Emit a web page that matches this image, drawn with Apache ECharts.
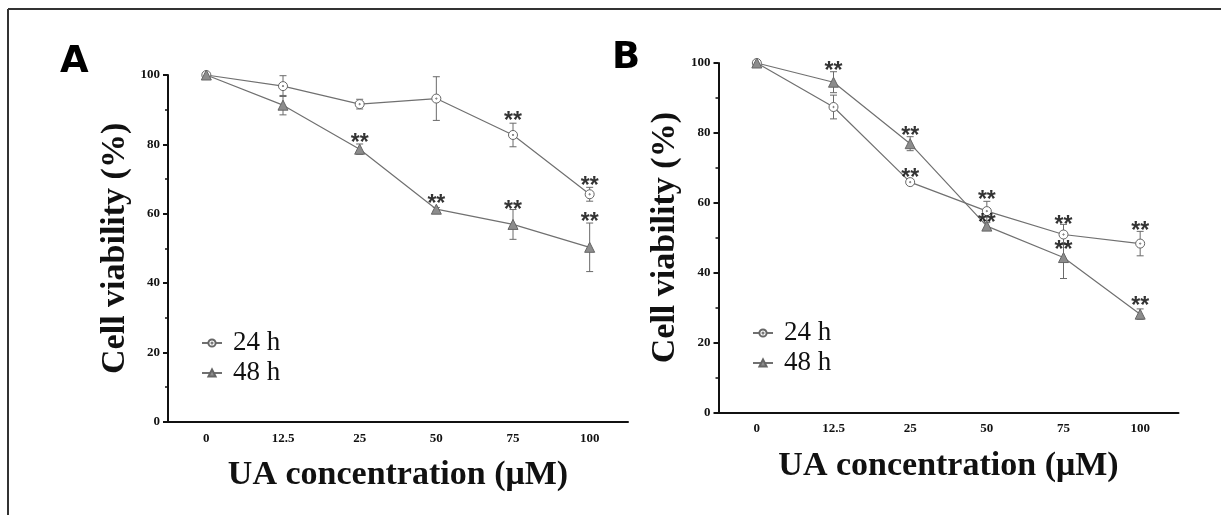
<!DOCTYPE html>
<html>
<head>
<meta charset="utf-8">
<script src="https://cdn.jsdelivr.net/npm/echarts@6/dist/echarts.min.js"></script>
<style>
    html, body { margin: 0; padding: 0; background: #fff; }
    #chart { width: 1221px; height: 515px; }
</style>
</head>
<body>
<div id="chart"></div>
<script>
(function () {
    'use strict';

    // UA dose (µM) categories
    var doses = ['0', '12.5', '25', '50', '75', '100'];

    // panel A: means and SD
    var a24 = [100, 96.8, 91.6, 93.2, 82.7, 65.6];
    var a24Err = [0.5, 3.0, 1.4, 6.3, 3.4, 2.0];
    var a48 = [100, 91.3, 78.6, 61.3, 56.9, 50.3];
    var a48Err = [0.5, 2.8, 1.5, 0.5, 4.3, 7.0];

    // panel B: means and SD
    var b24 = [100, 87.4, 65.9, 57.6, 50.9, 48.3];
    var b24Err = [0.5, 3.4, 0.5, 2.8, 2.9, 3.5];
    var b48 = [100, 94.5, 76.9, 53.3, 44.3, 28.1];
    var b48Err = [0.5, 3.0, 2.0, 1.0, 6.0, 1.5];

    // where the ** marks sit (value units), null = not significant
    var a24Star = [null, null, null, null, 88.2, 69.4];
    var a48Star = [null, null, 82.0, 64.4, 62.7, 59.0];
    var b24Star = [null, null, 68.5, 62.3, 55.2, 53.3];
    var b48Star = [null, 99.3, 80.5, 55.8, 48.0, 32.1];

    var lineColor = '#707070';
    var serif = '"Liberation Serif", "Times New Roman", serif';
    // open circle with a dot in the middle
    var dotCircle = 'path://M10,0A10,10 0 1,1 10,20A10,10 0 1,1 10,0ZM10,8.6A1.4,1.4 0 1,1 10,11.4A1.4,1.4 0 1,1 10,8.6Z';

    function errData(vals, errs) {
        var out = [];
        for (var i = 0; i < vals.length; i++) {
            out.push([i, vals[i], errs[i]]);
        }
        return out;
    }

    function starData(stars) {
        var out = [];
        for (var i = 0; i < stars.length; i++) {
            if (stars[i] !== null) {
                out.push([i, stars[i]]);
            }
        }
        return out;
    }

    function renderErr(params, api) {
        var hi = api.coord([api.value(0), api.value(1) + api.value(2)]);
        var lo = api.coord([api.value(0), api.value(1) - api.value(2)]);
        var w = 3.5;
        var st = { stroke: '#6a6a6a', lineWidth: 1 };
        return {
            type: 'group',
            children: [
                { type: 'line', shape: { x1: hi[0], y1: hi[1], x2: lo[0], y2: lo[1] }, style: st },
                { type: 'line', shape: { x1: hi[0] - w, y1: hi[1], x2: hi[0] + w, y2: hi[1] }, style: st },
                { type: 'line', shape: { x1: lo[0] - w, y1: lo[1], x2: lo[0] + w, y2: lo[1] }, style: st }
            ]
        };
    }

    function xAxisFor(idx) {
        return {
            type: 'category',
            gridIndex: idx,
            data: doses,
            boundaryGap: true,
            name: 'UA concentration (\u03bcM)',
            nameLocation: 'middle',
            nameGap: 37,
            nameTextStyle: { fontFamily: serif, fontWeight: 'bold', fontSize: 34, color: '#111' },
            axisLine: { lineStyle: { color: '#111', width: 2 } },
            axisTick: { alignWithLabel: true, length: 5, lineStyle: { color: '#111', width: 2 } },
            axisLabel: { fontFamily: serif, fontWeight: 'bold', fontSize: 13, color: '#111', margin: 10 },
            splitLine: { show: false }
        };
    }

    function yAxisFor(idx) {
        return {
            type: 'value',
            gridIndex: idx,
            min: 0,
            max: 100,
            interval: 20,
            name: 'Cell viability (%)',
            nameLocation: 'middle',
            nameGap: 36,
            nameTextStyle: { fontFamily: serif, fontWeight: 'bold', fontSize: 34, color: '#111' },
            axisLine: { show: true, lineStyle: { color: '#111', width: 2 } },
            axisTick: { show: true, length: 5, lineStyle: { color: '#111', width: 2 } },
            minorTick: { show: true, splitNumber: 2, length: 3, lineStyle: { color: '#111', width: 1.5 } },
            axisLabel: { fontFamily: serif, fontWeight: 'bold', fontSize: 13, color: '#111', margin: 8 },
            splitLine: { show: false }
        };
    }

    function lineSeries(name, idx, vals, symbol) {
        var tri = symbol === 'triangle';
        return {
            name: name,
            type: 'line',
            xAxisIndex: idx,
            yAxisIndex: idx,
            data: vals,
            symbol: symbol,
            symbolSize: tri ? 10 : 9,
            z: 3,
            lineStyle: { color: lineColor, width: 1.2 },
            itemStyle: tri ?
                { color: '#8c8c8c', borderColor: '#666', borderWidth: 1 } :
                { color: '#fff', borderColor: '#666', borderWidth: 1 }
        };
    }

    function errSeries(idx, vals, errs) {
        return {
            type: 'custom',
            xAxisIndex: idx,
            yAxisIndex: idx,
            data: errData(vals, errs),
            renderItem: renderErr,
            z: 2,
            silent: true
        };
    }

    function starSeries(idx, stars) {
        return {
            type: 'scatter',
            xAxisIndex: idx,
            yAxisIndex: idx,
            data: starData(stars),
            symbolSize: 1,
            itemStyle: { color: 'transparent' },
            z: 4,
            silent: true,
            label: {
                show: true,
                position: 'inside',
                formatter: '**',
                offset: [0, 6],
                fontFamily: '"Liberation Sans", Arial, sans-serif',
                fontWeight: 'bold',
                fontSize: 23,
                color: '#000'
            }
        };
    }

    function legendFor(left, top) {
        return {
            orient: 'vertical',
            left: left,
            top: top,
            padding: 0,
            itemWidth: 20,
            itemHeight: 9,
            itemGap: 0,
            data: ['24 h', '48 h'],
            textStyle: { fontFamily: serif, fontSize: 27, color: '#111', lineHeight: 30, padding: [0, 0, 0, 6] }
        };
    }

    var chart = echarts.init(document.getElementById('chart'), null, { renderer: 'canvas' });

    chart.setOption({
        animation: false,
        backgroundColor: '#fff',
        grid: [
            { left: 168, top: 75, width: 460, height: 346.7 },
            { left: 718.5, top: 63, width: 460, height: 349.3 }
        ],
        legend: [legendFor(201, 328), legendFor(752, 318)],
        xAxis: [xAxisFor(0), xAxisFor(1)],
        yAxis: [yAxisFor(0), yAxisFor(1)],
        graphic: [
            { type: 'line', shape: { x1: 8, y1: 9, x2: 1221, y2: 9 }, style: { stroke: '#333', lineWidth: 2 } },
            { type: 'line', shape: { x1: 8, y1: 9, x2: 8, y2: 515 }, style: { stroke: '#333', lineWidth: 2 } },
            {
                type: 'text', left: 60, top: 44,
                style: { text: 'A', font: 'bold 37px "DejaVu Sans", sans-serif', fill: '#000' }
            },
            {
                type: 'text', left: 612, top: 40,
                style: { text: 'B', font: 'bold 37px "DejaVu Sans", sans-serif', fill: '#000' }
            }
        ],
        series: [
            errSeries(0, a24, a24Err),
            errSeries(0, a48, a48Err),
            lineSeries('24 h', 0, a24, dotCircle),
            lineSeries('48 h', 0, a48, 'triangle'),
            starSeries(0, a24Star),
            starSeries(0, a48Star),
            errSeries(1, b24, b24Err),
            errSeries(1, b48, b48Err),
            lineSeries('24 h', 1, b24, dotCircle),
            lineSeries('48 h', 1, b48, 'triangle'),
            starSeries(1, b24Star),
            starSeries(1, b48Star)
        ]
    });
}());
</script>
</body>
</html>
